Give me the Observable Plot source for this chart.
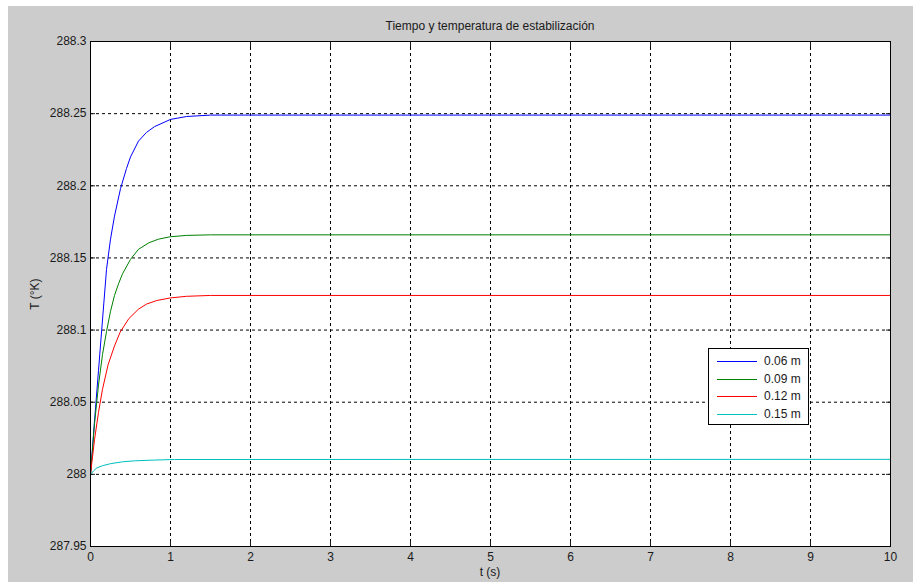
<!DOCTYPE html>
<html>
<head>
<meta charset="utf-8">
<script src="https://cdn.jsdelivr.net/npm/d3@7"></script>
<script src="https://cdn.jsdelivr.net/npm/@observablehq/plot@0.6"></script>
<style>
  html, body { margin: 0; padding: 0; background: #ffffff; }
  #wrap { position: absolute; left: 8px; top: 6px; width: 905px; height: 576px; background: #cccccc;
          font-family: "Liberation Sans", Arial, sans-serif; color: #1a1a1a; }
  #title { position: absolute; left: 82px; width: 800px; top: 13px; text-align: center; font-size: 12px; }
  #xlabel { position: absolute; left: 82px; width: 800px; top: 559px; text-align: center; font-size: 12px; }
  #ylabel { position: absolute; left: 27px; top: 288px; font-size: 12px; transform: translate(-50%, -50%) rotate(-90deg); white-space: nowrap; }
  #legend { position: absolute; left: 700px; top: 342px; width: 99px; height: 75px; background: #fff; border: 1px solid #000; font-size: 12px; }
  .row { position: absolute; left: 0; height: 16px; width: 100%; }
  .sw { position: absolute; left: 8px; width: 40px; top: 8px; height: 1px; }
  .lab { position: absolute; left: 55px; top: 0; line-height: 16px; }
</style>
</head>
<body>
<div id="wrap">
  <div id="chart"></div>
  <div id="title">Tiempo y temperatura de estabilización</div>
  <div id="xlabel">t (s)</div>
  <div id="ylabel">T (°K)</div>
  <div id="legend"></div>
</div>
<script>
// ---- data ----
const seriesNames = ["0.06 m", "0.09 m", "0.12 m", "0.15 m"];
const seriesColors = ["#0000ff", "#008000", "#ff0000", "#00bfbf"];

const tBlue = [0, 0.05, 0.1, 0.14, 0.2, 0.25, 0.3, 0.375, 0.45, 0.5, 0.6, 0.7, 0.8, 1.0, 1.2, 1.5, 10];
const TBlue = [288.0, 288.037, 288.072, 288.1, 288.142, 288.163, 288.179, 288.198, 288.212, 288.22, 288.231, 288.237, 288.241, 288.246, 288.248, 288.249, 288.249];

const tGreen = [0, 0.05, 0.1, 0.15, 0.2, 0.25, 0.3, 0.35, 0.4, 0.5, 0.6, 0.73, 0.85, 1.0, 1.2, 1.5, 10];
const TGreen = [288.0, 288.035, 288.062, 288.083, 288.099, 288.113, 288.124, 288.132, 288.139, 288.149, 288.156, 288.1605, 288.163, 288.1647, 288.1656, 288.166, 288.166];

const tRed = [0, 0.05, 0.1, 0.15, 0.22, 0.3, 0.37, 0.48, 0.6, 0.7, 0.83, 1.0, 1.2, 1.5, 10];
const TRed = [288.0, 288.024, 288.043, 288.059, 288.076, 288.089, 288.0985, 288.108, 288.1145, 288.118, 288.1205, 288.1223, 288.1234, 288.124, 288.124];

const tCyan = [0, 0.04, 0.08, 0.15, 0.25, 0.4, 0.56, 0.8, 1.05, 10];
const TCyan = [288.0, 288.0025, 288.0045, 288.006, 288.0074, 288.0087, 288.0094, 288.0099, 288.0103, 288.0104];

const xTicks = [0, 1, 2, 3, 4, 5, 6, 7, 8, 9, 10];
const yTicks = [287.95, 288, 288.05, 288.1, 288.15, 288.2, 288.25, 288.3];

// ---- build table ----
const times = [tBlue, tGreen, tRed, tCyan];
const temps = [TBlue, TGreen, TRed, TCyan];
const data = seriesNames.flatMap((name, i) => times[i].map((t, j) => ({series: name, t, T: temps[i][j]})));

const fmt = d => String(+d.toFixed(2));
const tickStyle = {fontFamily: "Liberation Sans, Arial, sans-serif", fontSize: 12};

const chart = Plot.plot({
  width: 905,
  height: 576,
  marginLeft: 82,
  marginRight: 23,
  marginTop: 35,
  marginBottom: 36,
  style: {background: "transparent", fontFamily: "Liberation Sans, Arial, sans-serif", fontSize: "12px", color: "#1a1a1a", overflow: "visible"},
  x: {domain: [0, 10]},
  y: {domain: [287.95, 288.3]},
  color: {domain: seriesNames, range: seriesColors},
  marks: [
    Plot.frame({fill: "white", stroke: "none"}),
    Plot.ruleX(xTicks.slice(1, -1), {stroke: "#000", strokeWidth: 1, strokeDasharray: "3,3"}),
    Plot.ruleY(yTicks.slice(1, -1), {stroke: "#000", strokeWidth: 1, strokeDasharray: "3,3"}),
    Plot.line(data, {x: "t", y: "T", z: "series", stroke: "series", strokeWidth: 1, curve: "linear"}),
    Plot.axisX({ticks: xTicks, tickSize: -5, tickPadding: 11, tickFormat: fmt, label: null, ...tickStyle}),
    Plot.axisX({anchor: "top", ticks: xTicks, tickSize: -5, tickFormat: () => "", label: null}),
    Plot.axisY({ticks: yTicks, tickSize: -5, tickPadding: 9, tickFormat: fmt, label: null, ...tickStyle}),
    Plot.axisY({anchor: "right", ticks: yTicks, tickSize: -5, tickFormat: () => "", label: null}),
    Plot.frame({stroke: "#000", strokeWidth: 1})
  ]
});
document.getElementById("chart").appendChild(chart);

// ---- legend ----
const leg = document.getElementById("legend");
seriesNames.forEach((name, i) => {
  const row = document.createElement("div");
  row.className = "row";
  row.style.top = (4 + i * 17.7) + "px";
  const sw = document.createElement("div");
  sw.className = "sw";
  sw.style.background = seriesColors[i];
  const lab = document.createElement("div");
  lab.className = "lab";
  lab.textContent = name;
  row.appendChild(sw);
  row.appendChild(lab);
  leg.appendChild(row);
});
</script>
</body>
</html>
